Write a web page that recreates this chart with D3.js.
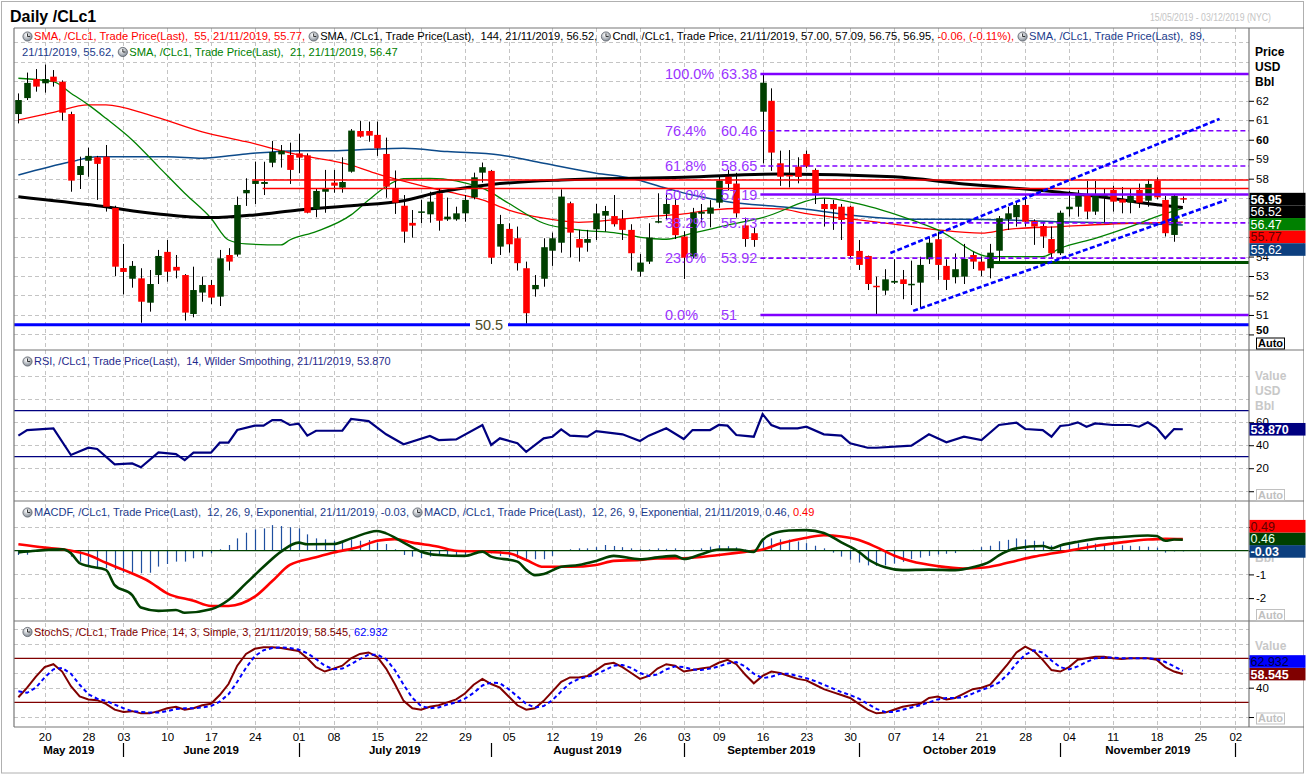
<!DOCTYPE html>
<html><head><meta charset="utf-8">
<script src="https://cdn.jsdelivr.net/npm/d3@7/dist/d3.min.js"></script>
<style>
html,body{margin:0;padding:0;background:#fff;}
svg{display:block;font-family:"Liberation Sans",Arial,Helvetica,sans-serif;}
text{white-space:pre;}
</style></head>
<body><svg id="chart" width="1307" height="775"></svg>
<script>
// ================= DATA =================
const candleOpen=[61.32,62.14,63.12,62.90,63.24,62.98,61.32,58.19,58.92,59.10,
59.13,56.50,53.41,52.86,52.88,51.63,53.05,54.24,53.47,53.05,
51.05,52.15,52.54,51.94,54.08,54.10,57.25,57.73,57.73,58.82,
59.25,59.22,59.30,59.20,56.44,57.33,57.80,57.54,58.36,60.45,
60.45,60.25,59.27,57.51,56.61,55.73,56.28,56.17,57.25,55.91,
55.91,56.22,57.04,58.31,58.40,54.51,55.42,54.94,53.40,52.32,
52.86,54.30,54.71,56.74,54.90,54.71,55.40,56.10,56.08,55.94,
55.37,53.22,53.74,55.76,56.19,56.65,55.03,54.00,56.20,56.20,
56.77,58.10,57.75,55.60,55.20,61.44,62.00,58.79,58.19,58.62,
59.27,58.45,56.70,56.70,56.56,56.56,54.29,54.03,52.50,52.25,
52.66,52.83,52.56,52.66,53.86,54.89,53.52,52.94,52.97,54.08,
53.74,53.40,54.30,55.91,56.02,56.65,55.83,55.57,54.90,54.17,
56.43,56.56,57.16,56.31,57.08,57.42,56.94,56.77,57.42,56.87,
57.90,56.91,55.11,57.00];
const candleHigh=[62.38,63.45,63.63,63.86,63.58,63.05,61.44,59.13,59.59,59.17,
59.73,56.61,54.65,53.77,53.40,53.31,54.34,54.85,54.08,53.10,
53.48,52.97,52.80,54.34,54.43,57.08,58.02,58.87,58.87,59.94,
59.73,59.85,60.30,59.30,57.51,58.45,58.45,59.10,60.55,60.96,
60.93,60.93,60.11,58.42,57.16,56.39,56.91,57.33,57.51,57.03,
56.56,57.16,58.31,58.83,58.45,56.14,55.71,55.54,53.74,53.05,
54.94,55.23,57.45,56.82,55.37,55.37,56.70,56.60,57.16,56.39,
55.66,54.13,55.71,57.25,57.25,57.00,55.30,56.50,56.70,56.90,
58.10,58.45,58.30,56.00,55.50,63.38,62.64,59.44,59.47,59.10,
59.44,58.53,56.99,56.91,56.70,56.60,54.85,54.05,52.97,53.35,
53.86,53.31,53.79,53.99,55.02,55.28,53.86,54.16,54.65,54.25,
54.01,54.65,56.08,56.56,56.82,57.16,55.91,55.71,55.54,56.36,
57.37,57.42,57.88,57.88,57.51,57.63,57.57,57.50,57.75,57.97,
58.07,57.11,57.16,57.09];
const candleLow=[60.84,62.04,62.47,62.42,62.73,60.98,57.33,57.47,58.10,56.91,
56.31,53.00,52.06,52.40,50.60,51.17,52.59,52.71,52.88,50.71,
50.88,51.68,51.56,51.46,53.28,54.00,56.60,56.70,57.16,58.59,
58.57,57.73,58.28,56.22,56.02,56.25,57.28,57.28,58.31,60.11,
59.90,59.17,57.02,56.19,54.71,54.97,55.71,55.74,55.33,55.83,
55.84,55.79,56.94,57.80,53.62,54.08,54.20,53.28,50.55,51.94,
52.45,53.52,54.20,53.96,53.74,54.25,54.85,55.28,55.54,54.85,
53.28,52.97,53.62,55.71,55.91,54.90,52.85,53.90,55.75,55.50,
56.50,57.40,56.00,54.50,54.50,58.79,58.40,57.63,57.55,57.76,
58.55,56.70,55.54,55.37,54.85,53.91,53.31,52.28,51.00,52.03,
52.59,51.81,51.51,51.34,53.62,52.80,52.28,52.62,52.59,53.36,
52.99,52.88,53.62,55.37,55.54,55.54,54.60,54.44,53.91,54.08,
56.05,56.05,55.92,56.14,55.71,56.31,56.22,56.22,56.50,56.56,
56.94,55.03,54.76,56.75];
const candleClose=[62.04,62.92,62.73,63.12,62.98,61.39,57.90,58.65,59.17,58.76,
56.56,53.48,53.21,53.52,51.68,52.59,54.03,53.22,53.28,51.12,
52.28,52.54,51.89,53.91,53.74,56.65,57.42,57.90,57.83,59.37,
59.44,58.45,59.08,56.25,57.37,57.51,57.64,57.83,60.47,60.16,
60.21,59.56,57.59,56.77,55.28,55.59,56.32,56.82,55.84,56.05,
56.22,56.91,58.07,58.59,53.94,55.67,54.63,53.66,51.09,52.54,
54.48,54.94,57.08,55.23,54.46,54.90,56.22,56.34,55.66,55.37,
54.17,53.69,54.97,55.82,56.70,55.10,53.94,56.26,56.30,56.52,
57.90,57.73,56.22,54.90,54.85,62.93,59.34,58.10,58.13,58.09,
58.62,57.25,56.44,56.43,55.88,54.03,53.57,52.59,52.45,52.83,
52.75,52.59,52.60,53.57,54.71,53.57,52.80,53.35,53.88,53.74,
53.28,54.20,55.97,56.22,56.65,55.79,55.54,55.03,54.17,56.25,
56.56,57.16,56.31,57.16,57.16,56.82,56.77,57.11,56.77,57.73,
57.04,55.20,57.11,56.95];
const lastChange="-0.06", lastChangePct="(-0.11%)";

// moving averages: [candle index, value]
const sma21=[[0,63.16],[4,62.98],[6,62.39],[8,61.79],[10,61.10],[13,59.99],[16,58.62],[19,57.25],[22,55.97],[24,54.85],[26,54.65],[30,54.60],[31,54.85],[34,55.28],[38,56.14],[40,56.90],[42,57.60],[44,58.00],[47,58.02],[53,57.51],[56,56.74],[60,55.71],[64,55.37],[68,55.23],[72,54.94],[74,54.89],[77,55.20],[81,55.62],[85,56.00],[92,57.00],[96,56.70],[102,55.88],[105,55.37],[111,54.00],[117,54.00],[119,54.43],[123,54.94],[127,55.54],[130,56.05],[133,56.47]];
const sma55=[[0,61.02],[4,61.41],[8,61.79],[10,61.79],[15,61.27],[21,60.41],[26,59.90],[32,59.22],[38,58.70],[41,58.25],[45,57.76],[49,57.33],[53,56.91],[56,56.39],[60,55.97],[64,55.76],[68,55.88],[72,56.05],[76,56.19],[79,56.39],[83,56.48],[87,56.45],[90,56.20],[96,55.88],[100,55.67],[105,55.37],[110,55.20],[113,55.40],[119,55.54],[127,55.71],[133,55.77]];
const sma89=[[0,58.19],[6,58.87],[9,59.13],[17,59.13],[21,59.05],[26,59.27],[32,59.44],[36,59.44],[40,59.51],[44,59.56],[49,59.39],[55,59.22],[60,58.79],[66,58.28],[70,58.02],[74,57.51],[77,57.16],[81,56.82],[87,56.56],[90,56.43],[96,56.08],[102,55.91],[108,55.91],[113,55.88],[119,55.79],[127,55.71],[133,55.62]];
const sma144=[[0,57.07],[9,56.61],[16,56.19],[22,56.00],[27,56.14],[32,56.39],[38,56.61],[44,56.87],[48,57.30],[54,57.70],[62,57.93],[76,58.07],[87,58.24],[100,58.10],[108,57.73],[115,57.47],[119,57.30],[124,57.05],[128,56.78],[133,56.52]];

// RSI 14 : [index, value]
const rsi14=[[0,48.3],[1,53.2],[4,54.7],[6,31.5],[8,37.8],[9,36.7],[11,23.4],[13,24.2],[14,20.8],[16,33.8],[18,32.3],[19,27.1],[20,33.5],[22,33.5],[23,42.2],[24,42.2],[25,53.2],[27,57.0],[28,57.0],[29,61.9],[30,61.9],[31,57.6],[32,58.7],[33,48.3],[34,52.6],[37,52.6],[38,62.8],[40,61.0],[42,49.5],[44,40.8],[47,48.0],[48,44.5],[50,45.1],[53,57.6],[54,40.2],[55,46.0],[57,41.7],[58,34.3],[60,46.0],[61,47.4],[62,53.8],[63,48.3],[65,47.4],[66,52.3],[69,49.5],[71,43.7],[72,48.3],[74,54.7],[76,45.4],[77,53.2],[79,53.2],[80,57.6],[81,57.0],[82,48.9],[84,47.4],[85,67.1],[86,57.6],[87,54.7],[89,54.7],[90,56.1],[92,49.5],[94,48.3],[95,41.7],[97,37.8],[98,37.8],[102,39.6],[104,49.5],[106,42.5],[108,47.4],[110,44.5],[112,57.6],[114,59.6],[115,54.1],[117,53.2],[118,47.4],[119,56.7],[120,57.6],[121,59.9],[122,56.1],[123,59.0],[125,57.6],[127,57.6],[128,56.1],[129,59.9],[130,55.2],[131,46.0],[132,54.1],[133,53.87]];

// MACD 12,26,9
const macdLine=[[0,-0.07],[2,0],[5,0.06],[6,-0.11],[7,-0.53],[8,-0.65],[10,-0.81],[11,-1.45],[13,-1.87],[14,-2.40],[16,-2.54],[18,-2.50],[19,-2.62],[22,-2.47],[24,-2.08],[26,-1.38],[28,-0.68],[30,-0.04],[32,0.34],[33,0.27],[36,0.28],[38,0.52],[41,0.83],[42,0.73],[44,0.34],[46,-0.04],[48,-0.18],[51,-0.22],[53,-0.04],[54,-0.25],[57,-0.46],[58,-0.81],[59,-1.03],[60,-0.98],[62,-0.68],[64,-0.60],[66,-0.43],[68,-0.22],[71,-0.36],[73,-0.28],[75,-0.22],[76,-0.35],[78,-0.15],[80,0.05],[82,0.05],[84,-0.05],[85,0.45],[86,0.70],[88,0.85],[90,0.87],[92,0.75],[94,0.35],[96,-0.05],[97,-0.35],[99,-0.70],[101,-0.82],[104,-0.80],[107,-0.82],[109,-0.70],[111,-0.45],[112,-0.20],[114,0.10],[117,0.20],[118,0.10],[119,0.22],[121,0.38],[123,0.50],[126,0.58],[129,0.64],[130,0.62],[131,0.42],[132,0.47],[133,0.46]];
const macdSignal=[[0,0.27],[3,0.13],[5,0.06],[8,-0.18],[10,-0.51],[12,-0.81],[15,-1.31],[17,-1.80],[20,-2.11],[22,-2.33],[24,-2.33],[27,-1.94],[29,-1.28],[31,-0.60],[34,-0.28],[36,-0.08],[39,0.17],[41,0.42],[43,0.49],[45,0.34],[48,0.17],[50,0.0],[53,-0.04],[56,-0.11],[58,-0.39],[60,-0.68],[63,-0.68],[66,-0.60],[68,-0.43],[71,-0.39],[73,-0.33],[76,-0.32],[80,-0.18],[83,-0.05],[85,0.05],[87,0.30],[90,0.55],[92,0.65],[94,0.60],[96,0.45],[98,0.15],[100,-0.20],[102,-0.45],[105,-0.65],[108,-0.75],[110,-0.72],[112,-0.60],[114,-0.42],[116,-0.25],[118,-0.12],[120,0.0],[123,0.20],[126,0.35],[129,0.47],[131,0.50],[133,0.49]];
const macdHist=[-0.18,-0.17,-0.05,0.0,0.02,0.02,-0.25,-0.46,-0.60,-0.74,
-0.74,-0.81,-0.93,-0.93,-0.95,-0.93,-0.67,-0.56,-0.46,-0.46,
-0.32,-0.25,-0.11,0.06,0.24,0.52,0.76,0.90,0.94,1.08,
1.04,0.99,0.94,0.69,0.52,0.48,0.42,0.38,0.48,0.42,
0.45,0.34,0.28,0.06,-0.18,-0.25,-0.32,-0.25,-0.18,-0.18,
-0.22,-0.18,-0.11,-0.04,-0.11,-0.22,-0.28,-0.32,-0.36,-0.36,
-0.36,-0.22,0.02,0.06,0.10,0.10,0.15,0.24,0.20,0.15,
0.10,0.06,0.06,0.10,0.08,0.10,-0.03,0.04,0.10,0.17,
0.23,0.19,0.14,0.05,-0.05,0.40,0.52,0.48,0.47,0.39,
0.32,0.21,0.10,-0.08,-0.25,-0.38,-0.50,-0.62,-0.64,-0.62,
-0.54,-0.47,-0.36,-0.29,-0.22,-0.16,-0.13,-0.10,-0.01,0.04,
0.15,0.21,0.40,0.46,0.52,0.47,0.42,0.39,0.22,0.28,
0.30,0.31,0.31,0.30,0.28,0.25,0.23,0.21,0.19,0.17,
0.13,-0.08,-0.03,-0.03];

// Slow stochastic 14,3,3
const stochK=[27,40,55,68,72,62,42,28,24,23,
18,10,7,8,5,5,8,12,14,10,
12,16,18,30,45,70,86,93,95,95,
94,92,90,80,68,62,66,70,80,86,
88,82,66,45,22,12,10,14,16,20,
24,32,44,52,45,40,28,16,10,12,
22,35,48,54,54,56,64,72,74,68,
60,52,56,66,72,70,62,64,66,68,
74,78,72,58,46,56,62,60,56,52,
50,44,38,34,30,26,18,10,5,6,
10,14,16,18,26,28,24,26,32,38,
40,44,58,72,88,96,90,78,64,62,
68,78,80,82,82,80,79,80,80,80,
78,68,62,58.545];
const stochD=[35,33,40,54,65,67,59,44,31,25,
22,17,12,8,7,6,6,8,11,12,
12,13,15,21,31,48,67,83,91,94,
95,94,92,87,79,70,65,66,72,79,
85,85,79,64,44,26,15,12,13,17,
20,25,33,43,47,46,38,28,18,13,
15,23,35,46,52,55,58,64,70,71,
67,60,56,58,65,69,68,65,64,66,
69,73,75,69,59,53,55,59,59,56,
53,49,44,39,34,30,25,18,11,7,
7,10,13,16,20,24,26,26,27,32,
37,41,47,58,73,85,91,88,77,68,
65,69,75,80,81,81,80,80,80,80,
79,75,69,62.932];

// drawing tools on price panel
const fibPct=[100,76.4,61.8,50,38.2,23.6,0];
const fibVal=[63.38,60.46,58.65,57.19,55.73,53.92,51];
const fibSolid=[true,false,false,true,false,false,true];
const fibStartIdx=84.75;
const supportLevel=50.5;
const redLevels=[57.93,57.50], redStart=[26.7,27.9];
const greenLevel=53.69, greenStart=111.3;
const channelLower=[[102.2,51.21],[138.0,56.91]];
const channelUpper=[[99.6,54.18],[137.2,61.07]];

// axis labels
const tickIdx=[3,8,12,17,22,27,32,36,41,46,51,56,61,66,71,76,80,85,90,95,100,105,110,115,120,125,130,135,139];
const tickLbl=["20","28","03","10","17","24","01","08","15","22","29","05","12","19","26","03","09","16","23","30","07","14","21","28","04","11","18","25","02"];
const monthBound=[-0.5,12,32,54,76,96,119,139];
const monthLbl=["May 2019","June 2019","July 2019","August 2019","September 2019","October 2019","November 2019"];
const priceTicks=[50,51,52,53,54,55,56,57,58,59,60,61,62];
const priceHiddenLabels=[55,56,57];
const rsiTicks=[0,20,40,60];
const macdTicks=[1,0,-1,-2];
const stochTicks=[0,40,80];

// ================= RENDER =================
const svg=d3.select("#chart");
const X0=14, X1=1249;
const x=d3.scaleLinear().domain([-0.5,140.56]).range([X0,X1]);
const P={price:[28,350],rsi:[350,501],macd:[501,621],stoch:[621,727]};
const yP=d3.scaleLinear().domain([49.2,65.74]).range([350,28]);
const yR=d3.scaleLinear().domain([-8.5,122.8]).range([501,350]);
const yM=d3.scaleLinear().domain([-2.966,2.097]).range([621,501]);
const yS=d3.scaleLinear().domain([-13.6,130.9]).range([727,621]);

const defs=svg.append("defs");
Object.entries(P).forEach(([k,v])=>{
  defs.append("clipPath").attr("id","clip-"+k).append("rect")
    .attr("x",X0).attr("y",v[0]).attr("width",X1-X0).attr("height",v[1]-v[0]);
});
const rg=defs.append("radialGradient").attr("id","ico").attr("cx","40%").attr("cy","35%").attr("r","70%");
rg.append("stop").attr("offset","0%").attr("stop-color","#ffffff");
rg.append("stop").attr("offset","100%").attr("stop-color","#7a838e");

svg.append("rect").attr("x",0).attr("y",0).attr("width",1307).attr("height",775).attr("fill","#fff");
svg.append("rect").attr("x",1.5).attr("y",1.5).attr("width",1302).attr("height",771.5).attr("fill","none").attr("stroke","#b0b0b0");

svg.append("text").attr("x",10).attr("y",22).attr("font-size",16).attr("font-weight","bold").attr("fill","#000").text("Daily /CLc1");
svg.append("text").attr("x",1150).attr("y",21).attr("font-size",10).attr("textLength",121).attr("lengthAdjust","spacingAndGlyphs").attr("fill","#c4c4c4").text("15/05/2019 - 03/12/2019 (NYC)");

// ---- grid ----
const GRID="#c4c4c4";
const grid=svg.append("g").attr("stroke",GRID).attr("stroke-width",1).attr("stroke-dasharray","4,3");
tickIdx.forEach(i=>{
  grid.append("line").attr("x1",Math.round(x(i))+0.5).attr("x2",Math.round(x(i))+0.5).attr("y1",28).attr("y2",730);
});
function hgrid(vals,ys){ vals.forEach(v=>{ const yy=Math.round(ys(v))+0.5;
  grid.append("line").attr("x1",X0).attr("x2",X1).attr("y1",yy).attr("y2",yy); }); }
hgrid(d3.range(50,66),yP);
hgrid([0,20,40,60,80,100],yR);
hgrid([1,-1,-2],yM);
hgrid([0,20,40,60,100,120],yS);

// ---- legends ----
function icon(g,cx,cy){
  g.append("circle").attr("cx",cx).attr("cy",cy).attr("r",4.6).attr("fill","url(#ico)").attr("stroke","#5a6068").attr("stroke-width",0.8);
  g.append("path").attr("d",`M${cx},${cy-3}V${cy}H${cx+2.6}`).attr("stroke","#222").attr("stroke-width",0.9).attr("fill","none");
}
function legend(y,parts,x0,targetEnd,fixedFs){
  const g=svg.append("g");
  let fs=fixedFs||11;
  const meas=s=>{const t=g.append("text").attr("font-size",fs).text(s);const w=t.node().getComputedTextLength();t.remove();return w;};
  if(targetEnd){ let tw=0,iw=0; parts.forEach(p=>{ if(p.icon) iw+=12; else tw+=meas(p.t); }); fs=fs*(targetEnd-x0-iw)/tw; }
  let cx=x0;
  parts.forEach(p=>{
    if(p.icon){ icon(g,cx+5.5,y); cx+=12; }
    else { const t=g.append("text").attr("x",cx).attr("y",y).attr("dy","0.35em").attr("font-size",fs).attr("fill",p.c).text(p.t); cx+=t.node().getComputedTextLength(); }
  });
  return fs;
}
const L=candleClose.length-1;
const f2=v=>v.toFixed(2);
const NAVY="#1b3b8b";
legend(36.5,[{icon:1},{t:`SMA, /CLc1, Trade Price(Last),  55, 21/11/2019, ${f2(sma55[sma55.length-1][1])}, `,c:"#ff0000"},
  {icon:1},{t:`SMA, /CLc1, Trade Price(Last),  144, 21/11/2019, ${f2(sma144[sma144.length-1][1])}, `,c:"#000"},
  {icon:1},{t:`Cndl, /CLc1, Trade Price, 21/11/2019, ${f2(candleOpen[L])}, ${f2(candleHigh[L])}, ${f2(candleLow[L])}, ${f2(candleClose[L])}, `,c:"#000"},
  {t:`${lastChange}, ${lastChangePct}, `,c:"#ff0000"},
  {icon:1},{t:"SMA, /CLc1, Trade Price(Last),  89,",c:NAVY}],22,1206);
legend(52,[{t:`21/11/2019, ${f2(sma89[sma89.length-1][1])}, `,c:NAVY},{icon:1},{t:`SMA, /CLc1, Trade Price(Last),  21, 21/11/2019, ${f2(sma21[sma21.length-1][1])}`,c:"#008000"}],22,398);
const legFs=legend(361.5,[{icon:1},{t:`RSI, /CLc1, Trade Price(Last),  14, Wilder Smoothing, 21/11/2019, ${rsi14[rsi14.length-1][1].toFixed(3)}`,c:"#1f2a8c"}],22,391);
legend(512.5,[{icon:1},{t:`MACDF, /CLc1, Trade Price(Last),  12, 26, 9, Exponential, 21/11/2019, ${f2(macdHist[L])}, `,c:NAVY},
  {icon:1},{t:`MACD, /CLc1, Trade Price(Last),  12, 26, 9, Exponential, 21/11/2019, ${f2(macdLine[macdLine.length-1][1])}, `,c:NAVY},
  {t:f2(macdSignal[macdSignal.length-1][1]),c:"#ff0000"}],22,815);
legend(632,[{icon:1},{t:`StochS, /CLc1, Trade Price, 14, 3, Simple, 3, 21/11/2019, ${stochK[L].toFixed(3)}, `,c:"#800000"},{t:stochD[L].toFixed(3),c:"#0000ff"}],22,null,legFs);

// ---- price panel ----
const pg=svg.append("g").attr("clip-path","url(#clip-price)");
const lineP=d3.line().x(d=>x(d[0])).y(d=>yP(d[1])).curve(d3.curveMonotoneX);
[[sma89,"#0c4a8a",1.5],[sma55,"#ff0000",1.3],[sma21,"#008000",1.3],[sma144,"#000000",3]].forEach(([data,c,w])=>{
  pg.append("path").datum(data).attr("d",lineP).attr("fill","none").attr("stroke",c).attr("stroke-width",w);
});
const idx=d3.range(candleOpen.length);
const cg=pg.append("g");
cg.selectAll("line.w").data(idx).join("line")
  .attr("x1",i=>Math.round(x(i))+0.5).attr("x2",i=>Math.round(x(i))+0.5)
  .attr("y1",i=>yP(candleHigh[i])).attr("y2",i=>yP(candleLow[i])).attr("stroke","#000").attr("stroke-width",1);
cg.selectAll("rect.b").data(idx).join("rect")
  .attr("x",i=>Math.round(x(i))+0.5-3.3).attr("width",6.6)
  .attr("y",i=>yP(Math.max(candleOpen[i],candleClose[i])))
  .attr("height",i=>Math.max(1.5,Math.abs(yP(candleOpen[i])-yP(candleClose[i]))))
  .attr("fill",i=>candleClose[i]>=candleOpen[i]?"#003f00":"#ff0000");

// horizontal levels
redLevels.forEach((v,k)=>{
  pg.append("line").attr("x1",x(redStart[k])).attr("x2",X1).attr("y1",yP(v)).attr("y2",yP(v)).attr("stroke","#ff0000").attr("stroke-width",1.5);
});
pg.append("line").attr("x1",x(greenStart)).attr("x2",X1).attr("y1",yP(greenLevel)).attr("y2",yP(greenLevel)).attr("stroke","#004f00").attr("stroke-width",3);
pg.append("line").attr("x1",X0).attr("x2",X1).attr("y1",yP(supportLevel)).attr("y2",yP(supportLevel)).attr("stroke","#0000ff").attr("stroke-width",3);
pg.append("rect").attr("x",470).attr("y",yP(supportLevel)-9).attr("width",38).attr("height",18).attr("fill","#fff");
pg.append("text").attr("x",489).attr("y",yP(supportLevel)).attr("dy","0.36em").attr("text-anchor","middle").attr("font-size",14.5).attr("fill","#4d4d26").text(String(supportLevel));
// fib
const FIB="#8000ff";
fibVal.forEach((v,k)=>{
  pg.append("line").attr("x1",x(fibStartIdx)).attr("x2",X1).attr("y1",yP(v)).attr("y2",yP(v))
    .attr("stroke",FIB).attr("stroke-width",fibSolid[k]?2.6:1.6).attr("stroke-dasharray",fibSolid[k]?null:"5,3");
  pg.append("text").attr("x",665).attr("y",yP(v)).attr("dy","0.36em").attr("font-size",14.5).attr("fill","#9a33ff").text(fibPct[k].toFixed(1)+"%");
  pg.append("text").attr("x",721).attr("y",yP(v)).attr("dy","0.36em").attr("font-size",14.5).attr("fill","#9a33ff").text(String(v));
});
// channel
[channelLower,channelUpper].forEach(c=>{
  pg.append("path").datum(c).attr("d",d3.line().x(d=>x(d[0])).y(d=>yP(d[1]))).attr("fill","none")
    .attr("stroke","#0000ff").attr("stroke-width",2.6).attr("stroke-dasharray","5,2.5");
});

// ---- RSI panel ----
const rgp=svg.append("g").attr("clip-path","url(#clip-rsi)");
[70,30].forEach(v=>rgp.append("line").attr("x1",X0).attr("x2",X1).attr("y1",yR(v)).attr("y2",yR(v)).attr("stroke","#000080").attr("stroke-width",1.2));
rgp.append("path").datum(rsi14).attr("d",d3.line().x(d=>x(d[0])).y(d=>yR(d[1]))).attr("fill","none").attr("stroke","#000080").attr("stroke-width",2.2);

// ---- MACD panel ----
const mg=svg.append("g").attr("clip-path","url(#clip-macd)");
mg.selectAll("line.h").data(idx).join("line")
  .attr("x1",i=>Math.round(x(i))+0.5).attr("x2",i=>Math.round(x(i))+0.5)
  .attr("y1",yM(0)).attr("y2",i=>yM(macdHist[i])).attr("stroke","#1f4f9f").attr("stroke-width",1.2);
mg.append("line").attr("x1",X0).attr("x2",X1).attr("y1",yM(0)).attr("y2",yM(0)).attr("stroke","#004000").attr("stroke-width",1.2);
const lineM=d3.line().x(d=>x(d[0])).y(d=>yM(d[1])).curve(d3.curveMonotoneX);
mg.append("path").datum(macdSignal).attr("d",lineM).attr("fill","none").attr("stroke","#ff0000").attr("stroke-width",2.6);
mg.append("path").datum(macdLine).attr("d",lineM).attr("fill","none").attr("stroke","#004000").attr("stroke-width",2.6);

// ---- Stoch panel ----
const sg=svg.append("g").attr("clip-path","url(#clip-stoch)");
[80,20].forEach(v=>sg.append("line").attr("x1",X0).attr("x2",X1).attr("y1",yS(v)).attr("y2",yS(v)).attr("stroke","#800000").attr("stroke-width",1.2));
sg.append("path").datum(stochK).attr("d",d3.line().x((d,i)=>x(i)).y(d=>yS(d))).attr("fill","none").attr("stroke","#800000").attr("stroke-width",2);
sg.append("path").datum(stochD).attr("d",d3.line().x((d,i)=>x(i)).y(d=>yS(d))).attr("fill","none").attr("stroke","#0000ff").attr("stroke-width",2).attr("stroke-dasharray","4,3");

// ---- frames ----
const fr=svg.append("g").attr("stroke","#777").attr("stroke-width",1.2);
[28,350,501,621,727].forEach(yy=>fr.append("line").attr("x1",X0).attr("x2",1304).attr("y1",yy).attr("y2",yy));
fr.append("line").attr("x1",X0).attr("x2",X0).attr("y1",28).attr("y2",727);
fr.append("line").attr("x1",X1).attr("x2",X1).attr("y1",28).attr("y2",727);

// ---- right axes ----
function unitLabels(lines,color){
  lines.forEach(([t,yy])=>svg.append("text").attr("x",1255).attr("y",yy).attr("dy","0.36em").attr("font-size",12).attr("font-weight","bold").attr("fill",color).text(t));
}
unitLabels([["Price",51.7],["USD",66.7],["Bbl",82]],"#000");
unitLabels([["Value",376],["USD",391],["Bbl",406]],"#c8c8c8");
unitLabels([["Bbl",558]],"#c8c8c8");
unitLabels([["Value",646]],"#c8c8c8");

function rightAxis(scale,ticks,fmt){
  const g=svg.append("g").attr("transform",`translate(${X1},0)`)
    .call(d3.axisRight(scale).tickValues(ticks).tickSize(5).tickPadding(2).tickFormat(fmt));
  g.select(".domain").remove();
  g.attr("font-size",null).attr("font-family",null);
  g.selectAll("text").attr("font-size",11.5).attr("fill","#000");
  g.selectAll("line").attr("stroke","#000");
  return g;
}
const pax=rightAxis(yP,priceTicks,d=>priceHiddenLabels.includes(d)?"":String(d));
pax.selectAll("text").attr("font-weight",d=>d%10===0?"bold":"normal").attr("y",d=>d===50?-5:0);
rightAxis(yR,rsiTicks,d=>d===0?"":String(d));
rightAxis(yM,macdTicks,d=>d>=0?"":String(d));
rightAxis(yS,stochTicks,d=>d===40?String(d):"");

function autoBox(yy,color){
  svg.append("rect").attr("x",1256.5).attr("y",yy-5.5).attr("width",28).attr("height",11).attr("fill","#fff").attr("stroke",color);
  svg.append("text").attr("x",1258).attr("y",yy).attr("dy","0.36em").attr("font-size",11).attr("font-weight","bold").attr("fill",color).text("Auto");
}
autoBox(343.5,"#000");autoBox(495,"#c0c0c0");autoBox(615,"#c0c0c0");autoBox(718.5,"#c0c0c0");

function badges(items,ys,mode){
  const h=12.6;
  const arr=items.map(d=>Object.assign({},d,{y:ys(d.v)}));
  if(mode==="down"){arr.sort((a,b)=>a.y-b.y);for(let k=1;k<arr.length;k++)arr[k].y=Math.max(arr[k].y,arr[k-1].y+h);}
  else{arr.sort((a,b)=>b.y-a.y);for(let k=1;k<arr.length;k++)arr[k].y=Math.min(arr[k].y,arr[k-1].y-h);}
  arr.forEach(d=>{
    svg.append("rect").attr("x",1249.5).attr("y",d.y-h/2).attr("width",56).attr("height",h).attr("fill",d.bg);
    svg.append("text").attr("x",1250.5).attr("y",d.y).attr("dy","0.36em").attr("font-size",12.5).attr("font-weight",d.b?"bold":"normal").attr("fill",d.fg).text(d.t);
  });
}
badges([
  {v:candleClose[L],t:f2(candleClose[L]),bg:"#000",fg:"#fff",b:1},
  {v:sma144[sma144.length-1][1],t:f2(sma144[sma144.length-1][1]),bg:"#000",fg:"#fff"},
  {v:sma21[sma21.length-1][1],t:f2(sma21[sma21.length-1][1]),bg:"#008000",fg:"#fff"},
  {v:sma55[sma55.length-1][1],t:f2(sma55[sma55.length-1][1]),bg:"#ff0000",fg:"#600000"},
  {v:sma89[sma89.length-1][1],t:f2(sma89[sma89.length-1][1]),bg:"#0c3f7f",fg:"#fff"}],yP,"down");
badges([{v:rsi14[rsi14.length-1][1],t:rsi14[rsi14.length-1][1].toFixed(3),bg:"#000080",fg:"#fff",b:1}],yR,"up");
badges([
  {v:macdSignal[macdSignal.length-1][1],t:f2(macdSignal[macdSignal.length-1][1]),bg:"#ff0000",fg:"#600000"},
  {v:macdLine[macdLine.length-1][1],t:f2(macdLine[macdLine.length-1][1]),bg:"#004000",fg:"#e8ffe8"},
  {v:macdHist[L],t:f2(macdHist[L]),bg:"#0c3f7f",fg:"#fff",b:1}],yM,"up");
badges([
  {v:stochD[L],t:stochD[L].toFixed(3),bg:"#0000ff",fg:"#000040"},
  {v:stochK[L],t:stochK[L].toFixed(3),bg:"#800000",fg:"#fff",b:1}],yS,"up");

// ---- bottom axis ----
const bx=svg.append("g").attr("transform","translate(0,727)")
  .call(d3.axisBottom(x).tickValues(tickIdx).tickSize(0).tickPadding(6).tickFormat((d,i)=>tickLbl[i]));
bx.select(".domain").remove();
bx.attr("font-size",null).attr("font-family",null);
bx.selectAll("text").attr("font-size",11.5).attr("fill","#000");
monthBound.slice(1).forEach(i=>{
  svg.append("line").attr("x1",Math.round(x(i))+0.5).attr("x2",Math.round(x(i))+0.5).attr("y1",743).attr("y2",757).attr("stroke","#000").attr("stroke-width",1.2);
});
monthLbl.forEach((m,k)=>{
  const cx=(x(monthBound[k])+x(monthBound[k+1]))/2;
  svg.append("text").attr("x",cx).attr("y",754).attr("text-anchor","middle").attr("font-size",11.5).attr("font-weight","bold").attr("fill","#000").text(m);
});
</script>
</body></html>
